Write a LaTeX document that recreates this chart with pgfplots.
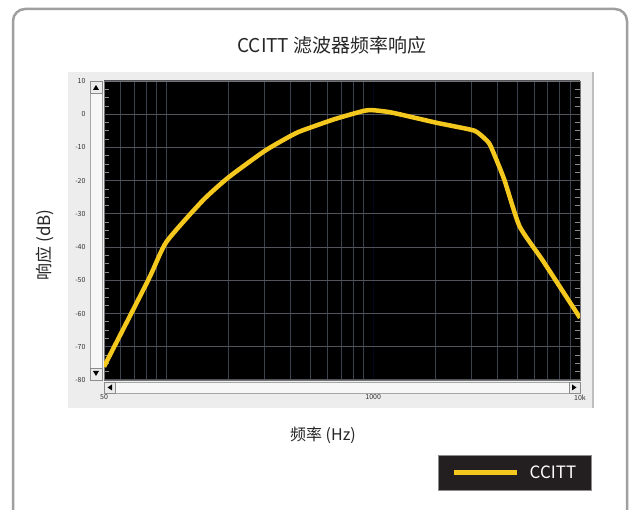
\documentclass[border=0pt]{standalone}
\usepackage{fontspec}
\setmainfont{Noto Sans CJK SC}
\usepackage{pgfplots}
\pgfplotsset{compat=1.18}
\definecolor{curve}{RGB}{245,200,30}
\definecolor{legbg}{RGB}{35,31,32}
\definecolor{vgrid}{RGB}{58,66,78}
\definecolor{hgrid}{RGB}{80,84,90}

\begin{document}
\begin{tikzpicture}[x=1pt,y=1pt]
\useasboundingbox (0,0) rectangle (630,510);
% outer frame
\begin{scope}
  \clip (0,0) rectangle (630,510);
  \draw[line width=2.5pt, draw=gray!75, fill=white, rounded corners=12pt] (13,-30) rectangle (627,501);
\end{scope}
% screenshot panel
\fill[black!7] (68,102) rectangle (593,438);
\draw[black!25, line width=1.5pt] (593,102) -- (593,438);
% left scrollbar
\filldraw[fill=black!3, draw=black!35] (90,130) rectangle (102,429);
\filldraw[fill=black!8, draw=black!45] (90,417) rectangle (102,429);
\fill[black] (93,420) -- (99,420) -- (96,425) -- cycle;
\filldraw[fill=black!8, draw=black!45] (90,130) rectangle (102,142);
\fill[black] (93,139) -- (99,139) -- (96,134) -- cycle;
% bottom scrollbar
\filldraw[fill=black!3, draw=black!35] (104,117) rectangle (580,128);
\filldraw[fill=black!8, draw=black!45] (104,117) rectangle (115,128);
\fill[black] (112,119.5) -- (112,125.5) -- (107.5,122.5) -- cycle;
\filldraw[fill=black!8, draw=black!45] (569,117) rectangle (580,128);
\fill[black] (572,119.5) -- (572,125.5) -- (576.5,122.5) -- cycle;

\begin{axis}[
  at={(104pt,130pt)}, anchor=south west,
  scale only axis, width=476pt, height=299pt,
  xmode=log, xmin=50, xmax=10000, ymin=-80, ymax=10,
  axis background/.style={fill=black},
  axis line style={draw=black!55},
  xtick={50,1000,10000}, xticklabels={50,1000,10k},
  minor xtick={60,70,80,90,100,200,300,400,500,600,700,800,900,2000,3000,4000,5000,6000,7000,8000,9000},
  ytick={-80,-70,...,10},
  minor y tick num=3,
  major tick length=0pt, minor tick length=5pt,
  tick align=inside, ytick pos=both, xtick pos=bottom,
  minor x tick style={draw=none},
  minor y tick style={draw=black!45, line width=0.8pt},
  xmajorgrids, xminorgrids, ymajorgrids,
  major x grid style={draw=vgrid!130, line width=1pt},
  minor x grid style={draw=vgrid, line width=1pt},
  major y grid style={draw=hgrid, line width=1pt},
  extra y ticks={0}, extra y tick labels={},
  extra y tick style={grid style={draw=black!40, line width=1.5pt}},
  /pgf/number format/assume math mode=true,
  tick label style={font=\fontsize{7}{8}\selectfont, text=black!80},
  yticklabel style={xshift=-15pt},
  xticklabel style={yshift=-11pt},
  legend style={at={(0.8634,-0.311)}, anchor=center, fill=legbg, draw=black!45,
    line width=1pt, text=white, font=\fontsize{17}{18}\selectfont,
    inner xsep=13pt, inner ysep=8pt,
    /tikz/every odd column/.append style={column sep=8pt}},
  legend image code/.code={\draw[#1, line width=5pt] (0pt,0pt) -- (63pt,0pt);},
]
\addplot[curve, line width=4.5pt, smooth, tension=0.35] coordinates {
  (50,-76) (82,-49.8) (100,-38.5) (150,-26) (200,-19) (300,-11) (400,-6.5)
  (450,-5) (650,-1.5) (900,1) (1000,1.2) (1230,0.5) (2000,-2.5) (2400,-3.5)
  (3100,-5) (3500,-7.6) (3700,-9.6) (4300,-19.6) (5100,-33.7) (6600,-44)
  (10000,-61.3)
};
\addlegendentry{CCITT\hspace{12pt}}
\end{axis}

\node[font=\fontsize{19}{20}\selectfont, text=black!85] at (332,465) {CCITT 滤波器频率响应};
\node[font=\fontsize{17}{18}\selectfont, text=black!85, rotate=90] at (45,265) {响应 (dB)};
\node[font=\fontsize{16}{17}\selectfont, text=black!85] at (323,75) {频率 (Hz)};
\end{tikzpicture}
\end{document}
